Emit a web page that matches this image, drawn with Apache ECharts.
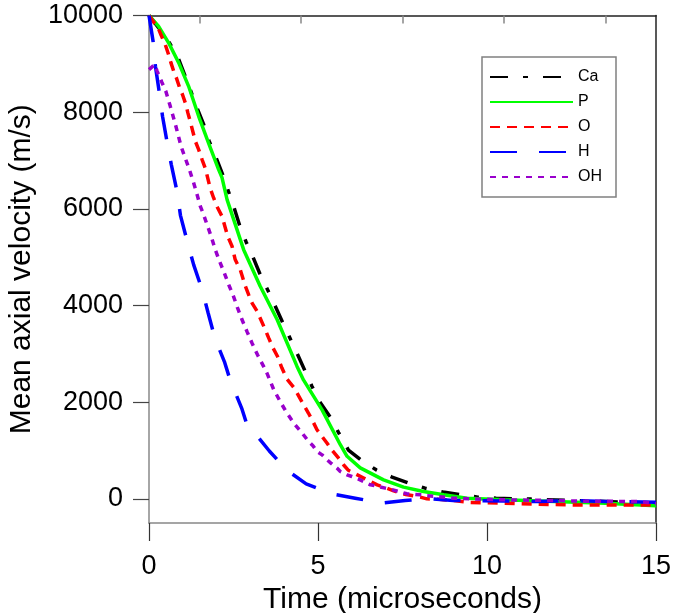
<!DOCTYPE html>
<html><head><meta charset="utf-8">
<script src="https://cdn.jsdelivr.net/npm/echarts@6/dist/echarts.min.js"></script>
<style>html,body{margin:0;padding:0;background:#fff}#c{width:673px;height:613px}</style>
</head><body><div id="c"></div>
<script>
const seriesNames = ['Ca', 'P', 'O', 'H', 'OH'];
const seriesColors = ['#000000', '#00ff00', '#ff0000', '#0000ff', '#9900cc'];

const caData = [
  [0,10000],[0.28,9750],[0.61,9430],[0.88,9090],[1.05,8780],[1.24,8430],[1.42,8090],[1.62,7740],
  [1.78,7400],[1.99,7050],[2.18,6710],[2.35,6360],[2.52,6020],[2.68,5660],[2.87,5320],[3.09,4980],
  [3.29,4640],[3.52,4310],[3.74,3980],[3.96,3640],[4.18,3310],[4.40,2980],[4.62,2640],[4.82,2330],
  [5.07,1990],[5.38,1670],[5.61,1370],[5.9,1010],[6.3,790],[6.72,600],[7.19,450],[7.68,325],
  [8.17,220],[8.7,140],[9.23,85],[9.73,35],[10.27,14],[10.79,0],[11.3,-6],[12.5,-35],[13.5,-55],[15,-100]
];
const pData = [
  [0,10000],[0.28,9780],[0.58,9435],[0.88,9020],[1.17,8540],[1.47,7915],[1.76,7365],[2.06,6810],
  [2.16,6645],[2.31,6190],[2.8,5155],[3.29,4400],[3.79,3710],[4.38,2740],[4.57,2460],[5.12,1840],
  [5.66,1120],[5.86,880],[6.25,640],[6.94,393],[7.53,242],[8.12,151],[8.72,83],[9.41,14],
  [10.5,-21],[12,-55],[13.5,-90],[15,-145]
];
const oData = [
  [0,10000],[0.1,9900],[0.27,9745],[0.36,9590],[0.48,9400],[0.58,9190],[0.65,9020],[0.73,8850],
  [0.81,8710],[0.91,8500],[0.99,8365],[1.09,8160],[1.15,7985],[1.22,7810],[1.37,7400],[1.47,7225],
  [1.57,7020],[1.67,6830],[1.81,6430],[1.91,6230],[2.01,6050],[2.16,5845],[2.33,5430],[2.46,5220],
  [2.55,4950],[2.70,4740],[2.85,4400],[2.95,4220],[3.05,4050],[3.2,3880],[3.44,3500],[3.54,3330],
  [3.67,3120],[3.8,2950],[3.93,2710],[4.08,2480],[4.3,2290],[4.57,1950],[4.72,1770],[4.85,1600],
  [4.97,1430],[5.12,1290],[5.27,1150],[5.41,1010],[5.61,840],[5.76,700],[5.9,590],[6.15,500],
  [6.35,430],[6.55,360],[6.75,290],[7.04,220],[7.24,165],[7.6,90],[8.03,35],[8.22,0],[8.52,-6],
  [8.72,-20],[9.0,-35],[9.5,-75],[10.5,-90],[11.5,-110],[12.5,-125],[13.5,-125],[15,-125]
];
const hData = [
  [0,10000],[0.12,9470],[0.19,8950],[0.30,8430],[0.40,7915],[0.53,7400],[0.66,6915],[0.83,6360],
  [0.93,5865],[1.13,5330],[1.32,4845],[1.57,4330],[1.75,3845],[1.96,3300],[2.23,2840],[2.40,2460],
  [2.75,1860],[2.9,1530],[3.12,1370],[3.56,990],[4.08,590],[4.65,310],[5.41,100],[6.1,14],
  [6.89,-90],[7.58,-35],[8.32,0],[9.0,-35],[10.5,-45],[11.5,-55],[12.5,-35],[13.5,-55],[15,-70]
];
const ohData = [
  [0,8880],[0.17,8985],[0.24,8850],[0.38,8620],[0.5,8430],[0.63,8120],[0.78,7750],[0.95,7290],
  [1.07,7054],[1.2,6800],[1.32,6540],[1.42,6300],[1.52,6050],[1.6,5910],[1.72,5670],[1.84,5430],
  [1.96,5155],[2.09,4910],[2.23,4670],[2.36,4430],[2.5,4190],[2.62,3950],[2.75,3710],[2.9,3460],
  [3.05,3220],[3.21,2980],[3.39,2740],[3.49,2600],[3.69,2260],[3.88,2015],[4.05,1810],[4.28,1570],
  [4.53,1360],[4.72,1190],[4.85,1100],[4.97,980],[5.12,910],[5.27,807],[5.38,740],[5.56,636],
  [5.66,565],[5.86,497],[6.0,462],[6.2,408],[6.35,358],[6.55,290],[6.7,269],[6.99,221],[7.14,200],
  [7.49,131],[7.63,104],[8.03,83],[8.17,69],[8.52,48],[9.0,14],[9.5,0],[10.5,-21],[12,-35],
  [13,-50],[14.5,-55],[15,-103]
];
const seriesData = [caData, pData, oData, hData, ohData];
const seriesDash = [[18, 15, 5, 15], 'solid', [10, 7], [27, 22], [6, 6]];

const xTicks = [0, 5, 10, 15];
const yTicks = [0, 2000, 4000, 6000, 8000, 10000];
const topTicks = [1.5, 4.5, 7.5, 10.5, 13.5];
const xTitle = 'Time (microseconds)';
const yTitle = 'Mean axial velocity (m/s)';

const FONT = 'Liberation Sans, Arial, sans-serif';
const chart = echarts.init(document.getElementById('c'), null, {renderer: 'canvas'});
chart.setOption({
  backgroundColor: '#ffffff',
  animation: false,
  grid: {left: 149, top: 15.5, right: 17, bottom: 90, containLabel: false, outerBoundsMode: 'none'},
  legend: {
    orient: 'vertical', left: 482, top: 57,
    padding: [12, 14, 12, 7],
    borderColor: '#808080', borderWidth: 1.5,
    itemWidth: 83, itemHeight: 14, itemGap: 9,
    itemStyle: {opacity: 0},
    textStyle: {fontFamily: FONT, fontSize: 16, color: '#000', lineHeight: 16},
    data: seriesNames
  },
  xAxis: [{
    type: 'value', position: 'bottom', min: xTicks[0], max: xTicks[xTicks.length - 1], interval: 5,
    axisLine: {show: true, onZero: false, lineStyle: {color: '#888', width: 1.5}},
    axisTick: {show: true, inside: false, length: 18, lineStyle: {color: '#333', width: 1.2}},
    axisLabel: {show: true, margin: 30, fontFamily: FONT, fontSize: 27, color: '#000'},
    splitLine: {show: false},
    name: xTitle, nameLocation: 'middle', nameGap: 62,
    nameTextStyle: {fontFamily: FONT, fontSize: 30, color: '#000'}
  }, {
    type: 'value', position: 'top', min: 0, max: 15,
    axisLine: {show: true, onZero: false, lineStyle: {color: '#222', width: 1.5}},
    axisTick: {show: true, inside: true, length: 8, customValues: topTicks, lineStyle: {color: '#888', width: 1.5}},
    axisLabel: {show: false},
    splitLine: {show: false}
  }],
  yAxis: [{
    type: 'value', position: 'left', min: -500, max: 10000,
    axisLine: {show: true, onZero: false, lineStyle: {color: '#888', width: 1.5}},
    axisTick: {show: true, inside: false, length: 16, customValues: yTicks, lineStyle: {color: '#444', width: 1.2}},
    axisLabel: {show: true, customValues: yTicks, margin: 26, fontFamily: FONT, fontSize: 27, color: '#000',
      formatter: v => String(v)},
    splitLine: {show: false},
    name: yTitle, nameLocation: 'middle', nameGap: 110,
    nameTextStyle: {fontFamily: FONT, fontSize: 30, color: '#000'}
  }, {
    type: 'value', position: 'right', min: -500, max: 10000,
    axisLine: {show: true, onZero: false, lineStyle: {color: '#222', width: 1.5}},
    axisTick: {show: false}, axisLabel: {show: false}, splitLine: {show: false}
  }],
  series: seriesNames.map((n, i) => ({
    name: n, type: 'line', xAxisIndex: 0, yAxisIndex: 0,
    data: seriesData[i], showSymbol: false, symbol: 'none', smooth: false,
    color: seriesColors[i],
    lineStyle: {color: seriesColors[i], width: 3.5, type: seriesDash[i]},
    emphasis: {disabled: true}
  }))
});
</script></body></html>
